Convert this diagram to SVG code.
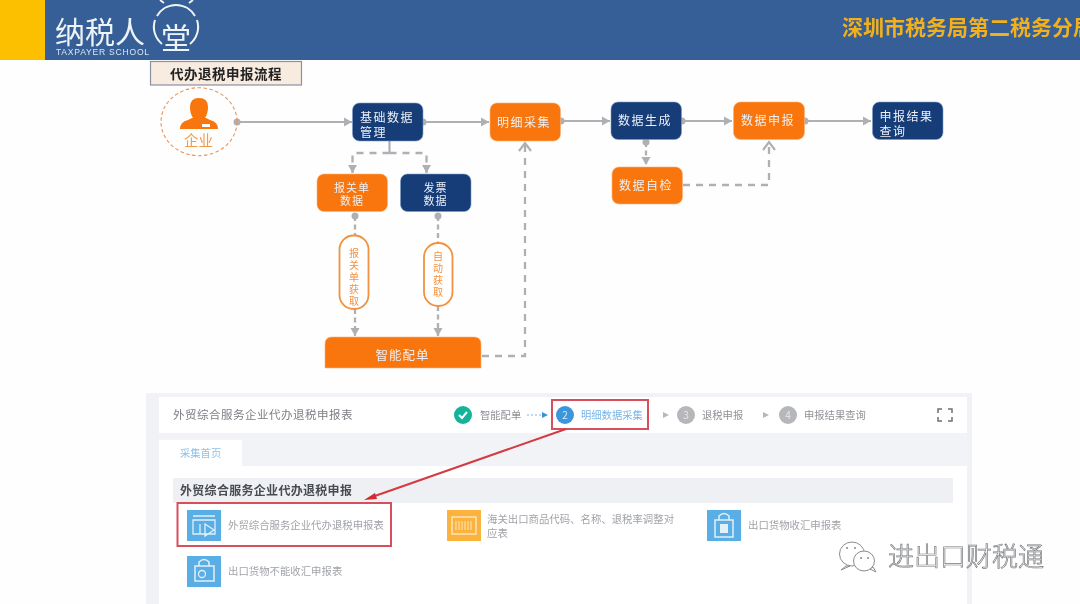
<svg xmlns="http://www.w3.org/2000/svg" width="1080" height="604" viewBox="0 0 1080 604">
<style>
text{font-family:"Noto Sans CJK SC","Liberation Sans",sans-serif}
.n{fill:#133c78;stroke:#7f9cc4;stroke-width:.6}
.o{fill:#f97508;stroke:#fbb27a;stroke-width:.6}
.w{fill:#eef0f6;font-size:12px;letter-spacing:1.500px}
.w2{fill:#eef0f6;font-size:11px;letter-spacing:1px;text-anchor:middle}
.p{fill:#fff;stroke:#f1923f;stroke-width:1.800}
.pt{fill:#f5913f;font-size:10px;text-anchor:middle}
.c{fill:none;stroke:#aeb0b4;stroke-width:2.200}
.d{fill:none;stroke:#aeb0b4;stroke-width:2.300;stroke-dasharray:7 6}
.e{fill:none;stroke:#aeb0b4;stroke-width:2.300;stroke-dasharray:5 3.500}
.g{fill:#8f9197;font-size:10.300px}
.b{fill:#a0a3a8;font-size:10.400px}
.r{fill:none;stroke:#d8505c;stroke-width:2}
</style>
<defs>
<filter id="b" x="-5%" y="-5%" width="110%" height="110%"><feGaussianBlur stdDeviation="0.65"/></filter>
<marker id="a" markerWidth="10" markerHeight="10" refX="8" refY="5" orient="auto" markerUnits="userSpaceOnUse"><path d="M0 .5L8 5L0 9.500z" fill="#aeb0b4"/></marker>
<marker id="t" markerWidth="10" markerHeight="10" refX="5" refY="5" markerUnits="userSpaceOnUse"><circle cx="5" cy="5" r="3.500" fill="#aeb0b4"/></marker>
<marker id="v" markerWidth="14" markerHeight="14" refX="10" refY="7" orient="auto" markerUnits="userSpaceOnUse"><path d="M2 1L10 7L2 13" fill="none" stroke="#aeb0b4" stroke-width="2.200"/></marker>
</defs>
<rect width="1080" height="604" fill="#fefefe"/>
<g filter="url(#b)">
<g id="header">
<rect width="1080" height="60" fill="#345f96"/>
<rect width="45" height="60" fill="#fcc000"/>
<text x="55" y="43" fill="#eef3f8" font-size="30">纳税人</text>
<text x="56" y="55" fill="#dfe6ef" font-size="8.600" style="font-family:'Liberation Sans',sans-serif" letter-spacing=".75">TAXPAYER SCHOOL</text>
<path d="M157 16A22 22 0 0 1 195 16M155 20A22 22 0 0 0 162 44M197 20A22 22 0 0 1 190 44" fill="none" stroke="#eef3f8" stroke-width="2"/>
<path d="M160 0L164 3M193 0L189 3" stroke="#eef3f8" stroke-width="2"/>
<text x="176" y="49" fill="#eef3f8" font-size="30" text-anchor="middle">堂</text>
<text x="842" y="35" fill="#f2b01e" font-size="21" font-weight="700">深圳市税务局第二税务分局</text>
</g>
<g id="title">
<rect x="150.500" y="61.500" width="151" height="23.500" fill="#f8ebdf" stroke="#8b90a2" stroke-width="1.200"/>
<text x="170" y="79" fill="#222" font-size="13.500" font-weight="700" letter-spacing=".5">代办退税申报流程</text>
</g>
<g id="connectors">
<path class="c" d="M237 122H352" marker-start="url(#t)" marker-end="url(#a)"/>
<path class="c" d="M423 122H489" marker-start="url(#t)" marker-end="url(#a)"/>
<path class="c" d="M561 121H610" marker-start="url(#t)" marker-end="url(#a)"/>
<path class="c" d="M682 121H732" marker-start="url(#t)" marker-end="url(#a)"/>
<path class="c" d="M805 121H871" marker-start="url(#t)" marker-end="url(#a)"/>
<path class="c" d="M389.500 141V153"/>
<path class="d" d="M389.500 153H353Q352.500 153 352.500 155V173" marker-end="url(#a)"/>
<path class="d" d="M389.500 153H426Q426.500 153 426.500 155V173" marker-end="url(#a)"/>
<path class="e" d="M355 216V235" marker-start="url(#t)"/>
<path class="e" d="M355 309V336" marker-end="url(#a)"/>
<path class="e" d="M438 216V243" marker-start="url(#t)"/>
<path class="e" d="M438 306V336" marker-end="url(#a)"/>
<path class="d" d="M482 356H525V143" marker-end="url(#v)"/>
<path class="e" d="M646 142V165" marker-start="url(#t)" marker-end="url(#a)"/>
<path class="d" d="M683 185H769V142" marker-end="url(#v)"/>
</g>
<g id="qiye">
<ellipse cx="199" cy="121.700" rx="38" ry="34" fill="none" stroke="#e8935a" stroke-width="1.100" stroke-dasharray="3.500 2.500"/>
<path d="M180 129Q180 122 188 120L193 117.500Q190 114 190 107Q190 98 199 98Q208 98 208 107Q208 114 205 117.500L210 120Q218 122 218 129Z" fill="#f97508"/>
<rect x="202" y="124" width="8" height="3" fill="#fff"/>
<text x="198.500" y="146" fill="#f39a45" font-size="14.500" text-anchor="middle">企业</text>
</g>
<g id="n1"><rect class="n" x="352.500" y="103" width="70.500" height="38" rx="7"/><text class="w" x="360" y="122">基础数据</text><text class="w" x="360" y="137">管理</text></g>
<g id="n2"><rect class="o" x="490" y="103" width="70.500" height="38" rx="7"/><text class="w" x="497" y="126.500">明细采集</text></g>
<g id="n3"><rect class="n" x="611" y="102" width="70.500" height="37.500" rx="7"/><text class="w" x="618" y="125">数据生成</text></g>
<g id="n4"><rect class="o" x="733.500" y="102" width="71" height="37.500" rx="7"/><text class="w" x="741" y="125">数据申报</text></g>
<g id="n5"><rect class="n" x="872.500" y="102" width="70.500" height="37.500" rx="7"/><text class="w" x="879.500" y="120.500">申报结果</text><text class="w" x="879.500" y="135.500">查询</text></g>
<g id="n6"><rect class="o" x="612" y="167" width="70.500" height="37" rx="7"/><text class="w" x="619" y="189.500">数据自检</text></g>
<g id="n7"><rect class="o" x="317" y="174" width="70.500" height="37.500" rx="7"/><text class="w2" x="352" y="192">报关单</text><text class="w2" x="352" y="204.500">数据</text></g>
<g id="n8"><rect class="n" x="400.500" y="174" width="70.500" height="37.500" rx="7"/><text class="w2" x="435.500" y="192">发票</text><text class="w2" x="435.500" y="204.500">数据</text></g>
<g id="n9"><rect class="p" x="339.500" y="235.500" width="29" height="73.500" rx="14"/><g class="pt"><text x="354" y="257">报</text><text x="354" y="269">关</text><text x="354" y="281">单</text><text x="354" y="293">获</text><text x="354" y="305">取</text></g></g>
<g id="n10"><rect class="p" x="424" y="243" width="28.500" height="63" rx="14"/><g class="pt"><text x="438" y="260">自</text><text x="438" y="272">动</text><text x="438" y="284">获</text><text x="438" y="296">取</text></g></g>
<g id="n11"><path class="o" d="M325 368V344Q325 337 332 337H474Q481 337 481 344V368Z"/><text x="402.500" y="360" fill="#eef0f6" font-size="12.500" letter-spacing="1" text-anchor="middle">智能配单</text></g>
<g id="panel">
<rect x="146" y="393" width="826" height="211" fill="#f1f2f5"/>
<rect x="159" y="397" width="808" height="36" fill="#fff"/>
<rect x="159" y="466" width="808" height="138" fill="#fff"/>
<rect x="159" y="433" width="808" height="33" fill="#f1f3f7"/>
<rect x="159" y="440" width="83" height="26" fill="#fff"/>
<text x="173" y="419" fill="#7c7e84" font-size="11.500" letter-spacing=".5">外贸综合服务企业代办退税申报表</text>
<text x="180" y="457" fill="#8fc0e8" font-size="10.300">采集首页</text>
<rect x="173" y="478" width="780" height="25" fill="#eef0f4"/>
<text x="180" y="495" fill="#4a4c52" font-size="12" letter-spacing=".3" font-weight="700">外贸综合服务企业代办退税申报</text>
<circle cx="463" cy="415" r="9" fill="#14b39b"/><path d="M459 415L462 418L467 412" fill="none" stroke="#fff" stroke-width="2"/>
<text class="g" x="480" y="419">智能配单</text>
<path d="M527 415H542" stroke="#7fb5e0" stroke-dasharray="2 2"/><path d="M542 412L548 415L542 418z" fill="#3b8fd6"/>
<circle cx="565" cy="415" r="9" fill="#3b96dc"/><text x="565" y="419" fill="#d8ecfa" font-size="10" text-anchor="middle">2</text>
<text x="581" y="419" fill="#79b6e6" font-size="10.300">明细数据采集</text>
<path d="M663 412L669 415L663 418z" fill="#b5b7ba"/>
<circle cx="686" cy="415" r="9" fill="#b5b7ba"/><text x="686" y="419" fill="#e8e8e8" font-size="10" text-anchor="middle">3</text>
<text class="g" x="702" y="419">退税申报</text>
<path d="M763 412L769 415L763 418z" fill="#b5b7ba"/>
<circle cx="788" cy="415" r="9" fill="#b5b7ba"/><text x="788" y="419" fill="#e8e8e8" font-size="10" text-anchor="middle">4</text>
<text class="g" x="804" y="419">申报结果查询</text>
<path d="M938 413V409H942M948 409H952V413M938 417V421H942M948 421H952V417" fill="none" stroke="#6d7075" stroke-width="1.500"/>
<g id="icon1"><rect x="187" y="510" width="34" height="31" fill="#5aaee6"/><path d="M193 516H215M193 520H215V534H193ZM200 524V534M205 524L214 530L205 536Z" fill="none" stroke="#e2f0fa" stroke-width="1.300"/></g>
<text class="b" x="228" y="529">外贸综合服务企业代办退税申报表</text>
<g id="icon2"><rect x="447" y="510" width="34" height="31" fill="#fbb33c"/><path d="M452 517H476V534H452Z" fill="none" stroke="#fde6bb" stroke-width="1.500"/><path d="M456 521V530M459 521V530M462 521V530M465 521V530M468 521V530M471 521V530" stroke="#fde6bb"/></g>
<text class="b" x="487" y="523">海关出口商品代码、名称、退税率调整对</text>
<text class="b" x="487" y="537">应表</text>
<g id="icon3"><rect x="707" y="510" width="34" height="31" fill="#5aaee6"/><path d="M715 520H733V537H715ZM719 520V516Q724 511 729 516V520" fill="none" stroke="#e2f0fa" stroke-width="1.500"/><rect x="720" y="524" width="8" height="9" fill="#e2f0fa"/></g>
<text class="b" x="748" y="529">出口货物收汇申报表</text>
<g id="icon4"><rect x="187" y="556" width="34" height="31" fill="#5aaee6"/><path d="M195 566H214V581H195ZM199 566V562Q204 557 209 562V566" fill="none" stroke="#e2f0fa" stroke-width="1.500"/><circle cx="202" cy="574" r="3.500" fill="none" stroke="#e2f0fa" stroke-width="1.300"/></g>
<text class="b" x="228" y="575">出口货物不能收汇申报表</text>
<rect class="r" x="552" y="400" width="96" height="29"/>
<rect class="r" x="177.500" y="503" width="213.500" height="43"/>
<path d="M566 429L372 497" stroke="#d23a42" stroke-width="2"/>
<path d="M364 500L375 493L377 499z" fill="#d42a30"/>
</g>
<g id="watermark">
<g fill="#fff" stroke="#8c8c8c" stroke-width="1">
<ellipse cx="852" cy="554" rx="12.500" ry="12"/>
<path d="M846 566L841 570L850 566z"/>
<ellipse cx="864" cy="561" rx="10.500" ry="10"/>
<path d="M870 569L876 572L873 567z"/>
</g>
<circle cx="861" cy="558" r="1" fill="#888"/><circle cx="868" cy="558" r="1" fill="#888"/><circle cx="847" cy="548" r="1" fill="#888"/><circle cx="855" cy="548" r="1" fill="#888"/>
<text x="888" y="566" fill="#fff" stroke="#77797d" stroke-width=".7" font-size="26" font-weight="300">进出口财税通</text>
</g>
</g>
</svg>
